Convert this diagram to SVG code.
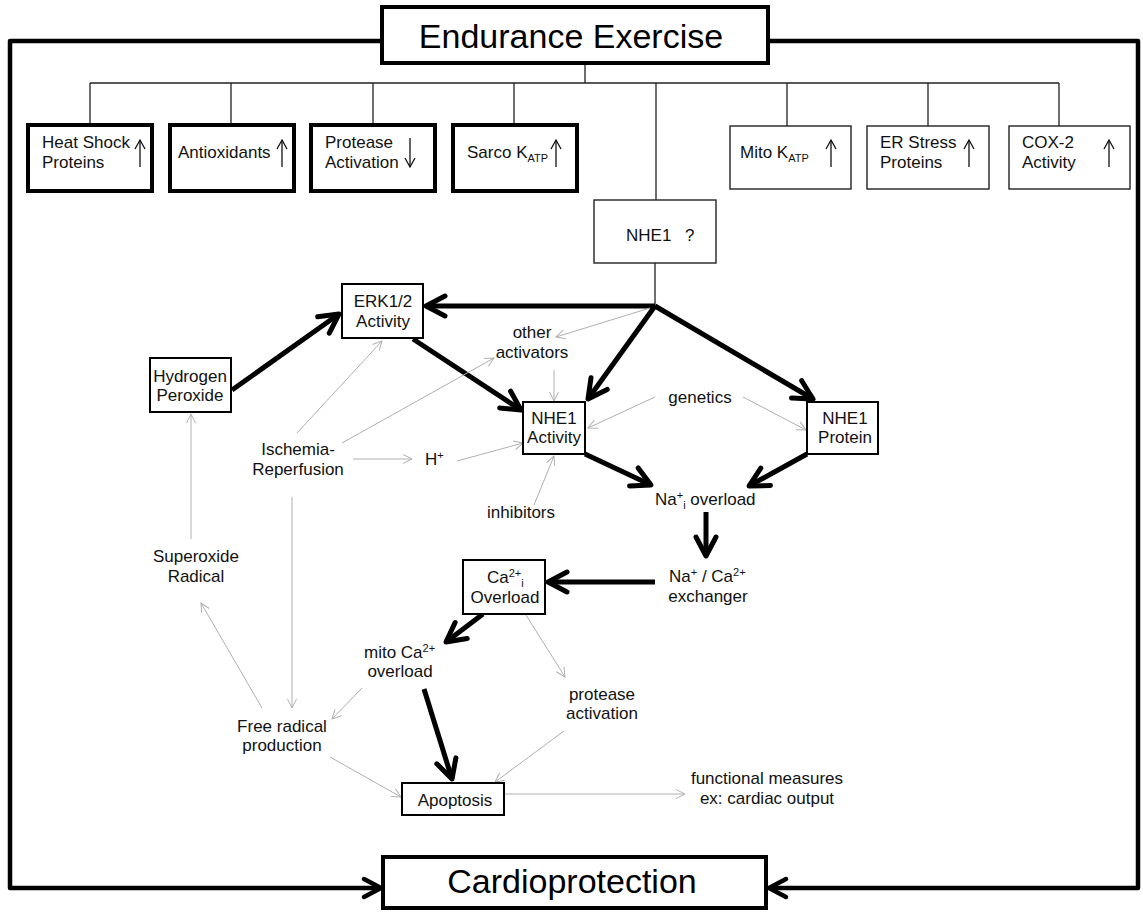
<svg xmlns="http://www.w3.org/2000/svg" width="1143" height="912" viewBox="0 0 1143 912">
<style>
text{font-family:"Liberation Sans",Arial,sans-serif;font-size:17px;fill:#111}
.title{font-size:34px;fill:#000}
.mid{text-anchor:middle}
.sub{font-size:11px}
.bthick{fill:#fff;stroke:#000;stroke-width:4}
.bthin{fill:#fff;stroke:#222;stroke-width:1.4}
.bmid{fill:#fff;stroke:#000;stroke-width:2}
.tline{fill:none;stroke:#222;stroke-width:1.3}
.thick{fill:none;stroke:#000;stroke-width:5;marker-end:url(#mThick)}
.gray{fill:none;stroke:#b0b0b0;stroke-width:1;marker-end:url(#mGray)}
.up{fill:none;stroke:#111;stroke-width:1.3;marker-end:url(#mUp)}
.frame{fill:none;stroke:#000;stroke-width:4.5;stroke-linejoin:round}
</style>
<defs>
<marker id="mThick" markerUnits="userSpaceOnUse" viewBox="-26 -14 30 28" markerWidth="30" markerHeight="28" refX="0" refY="0" orient="auto" overflow="visible">
<path d="M-19,-10 L0,0 L-19,10" fill="none" stroke="#000" stroke-width="5" stroke-linecap="round" stroke-linejoin="round"/>
</marker>
<marker id="mGray" markerUnits="userSpaceOnUse" viewBox="-10 -6 12 12" markerWidth="12" markerHeight="12" refX="0" refY="0" orient="auto" overflow="visible">
<path d="M-9,-4.5 L0,0 L-9,4.5" fill="none" stroke="#b0b0b0" stroke-width="1"/>
</marker>
<marker id="mUp" markerUnits="userSpaceOnUse" viewBox="-10 -6 12 12" markerWidth="12" markerHeight="12" refX="0" refY="0" orient="auto" overflow="visible">
<path d="M-9,-5 L0,0 L-9,5" fill="none" stroke="#111" stroke-width="1.3"/>
</marker>
<marker id="mFrame" markerUnits="userSpaceOnUse" viewBox="-20 -12 24 24" markerWidth="24" markerHeight="24" refX="0" refY="0" orient="auto" overflow="visible">
<path d="M-17,-9 L0,0 L-17,9" fill="none" stroke="#000" stroke-width="4.5" stroke-linecap="round" stroke-linejoin="round"/>
</marker>
</defs>
<rect width="1143" height="912" fill="#fff"/>

<g id="connectors">
<!-- outer frame -->
<path class="frame" d="M382,41 L10,41 L10,888 L381,888" marker-end="url(#mFrame)"/>
<path class="frame" d="M768,41 L1138,41 L1138,888 L769,888" marker-end="url(#mFrame)"/>
<!-- top tree -->
<path class="tline" d="M585,63 V83 M90,83 H1059 M90,83 V125 M231,83 V125 M373,83 V125 M514,83 V125 M656,83 V200 M787,83 V126 M928,83 V126 M1059,83 V126 M655,263 V306"/>
<!-- thick arrows -->
<path class="thick" d="M232,390 L339,314"/>
<path class="thick" d="M655,306 L426,306"/>
<path class="thick" d="M413,339 L521,410"/>
<path class="thick" d="M655,306 L588,399"/>
<path class="thick" d="M655,306 L813,399"/>
<path class="thick" d="M585,454 L651,485"/>
<path class="thick" d="M807,454 L749,486"/>
<path class="thick" d="M706,512 L706,556"/>
<path class="thick" d="M655,582 L548,582"/>
<path class="thick" d="M483,614 L446,642"/>
<path class="thick" d="M424,689 L452,779"/>
<!-- gray arrows -->
<path class="gray" d="M650,308 L556,337"/>
<path class="gray" d="M554,370 L554,401"/>
<path class="gray" d="M655,397 L588,428"/>
<path class="gray" d="M743,397 L806,430"/>
<path class="gray" d="M297,433 L382,341"/>
<path class="gray" d="M342,443 L494,358"/>
<path class="gray" d="M353,459 L412,459"/>
<path class="gray" d="M457,461 L523,443"/>
<path class="gray" d="M534,505 L554,456"/>
<path class="gray" d="M292,497 L292,708"/>
<path class="gray" d="M262,708 L201,603"/>
<path class="gray" d="M191,539 L191,414"/>
<path class="gray" d="M362,688 L332,719"/>
<path class="gray" d="M526,615 L565,677"/>
<path class="gray" d="M564,731 L495,782"/>
<path class="gray" d="M330,757 L401,797"/>
<path class="gray" d="M505,794 L685,794"/>
</g>

<g id="endurance">
<rect class="bthick" x="382" y="7" width="386" height="56"/>
<text class="title mid" x="571" y="48">Endurance Exercise</text>
</g>
<g id="cardioprotection">
<rect class="bthick" x="383" y="857" width="383" height="51"/>
<text class="title mid" x="572" y="893">Cardioprotection</text>
</g>

<g id="heatshock">
<rect class="bthick" x="28" y="125" width="124" height="66"/>
<text x="42" y="148">Heat Shock</text>
<text x="42" y="168">Proteins</text>
<path class="up" d="M140,167 V140"/>
</g>
<g id="antioxidants">
<rect class="bthick" x="170" y="125" width="124" height="66"/>
<text x="178" y="158">Antioxidants</text>
<path class="up" d="M282,167 V140"/>
</g>
<g id="protease-top">
<rect class="bthick" x="311" y="125" width="124" height="66"/>
<text x="325" y="148">Protease</text>
<text x="325" y="168">Activation</text>
<path class="up" d="M410,138 V167"/>
</g>
<g id="sarco">
<rect class="bthick" x="453" y="125" width="124" height="66"/>
<text x="467" y="158">Sarco K<tspan class="sub" dy="4">ATP</tspan></text>
<path class="up" d="M556,167 V140"/>
</g>
<g id="mito-katp">
<rect class="bthin" x="730" y="126" width="121" height="63"/>
<text x="740" y="158">Mito K<tspan class="sub" dy="4">ATP</tspan></text>
<path class="up" d="M831,167 V140"/>
</g>
<g id="er-stress">
<rect class="bthin" x="867" y="126" width="122" height="63"/>
<text x="880" y="148">ER Stress</text>
<text x="880" y="168">Proteins</text>
<path class="up" d="M969,167 V140"/>
</g>
<g id="cox2">
<rect class="bthin" x="1009" y="126" width="121" height="63"/>
<text x="1022" y="148">COX-2</text>
<text x="1022" y="168">Activity</text>
<path class="up" d="M1109,167 V140"/>
</g>
<g id="nhe1q">
<rect class="bthin" x="594" y="200" width="122" height="63"/>
<text x="626" y="241">NHE1</text>
<text x="685" y="241">?</text>
</g>

<g id="erk">
<rect class="bmid" x="342" y="284" width="81" height="54"/>
<text class="mid" x="383" y="307">ERK1/2</text>
<text class="mid" x="383" y="327">Activity</text>
</g>
<g id="h2o2">
<rect class="bmid" x="150" y="358" width="81" height="54"/>
<text class="mid" x="190" y="382">Hydrogen</text>
<text class="mid" x="190" y="401">Peroxide</text>
</g>
<g id="nhe1-activity">
<rect class="bmid" x="523" y="402" width="62" height="52"/>
<text class="mid" x="554" y="424">NHE1</text>
<text class="mid" x="554" y="443">Activity</text>
</g>
<g id="nhe1-protein">
<rect class="bmid" x="807" y="402" width="71" height="52"/>
<text class="mid" x="845" y="424">NHE1</text>
<text class="mid" x="845" y="443">Protein</text>
</g>
<g id="other-activators">
<text class="mid" x="532" y="338">other</text>
<text class="mid" x="532" y="358">activators</text>
</g>
<g id="genetics"><text class="mid" x="700" y="403">genetics</text></g>
<g id="ischemia">
<text class="mid" x="298" y="455">Ischemia-</text>
<text class="mid" x="298" y="475">Reperfusion</text>
</g>
<g id="hplus"><text x="425" y="465">H<tspan class="sub" dy="-6">+</tspan></text></g>
<g id="inhibitors"><text class="mid" x="521" y="518">inhibitors</text></g>
<g id="na-overload"><text x="655" y="505">Na<tspan class="sub" dy="-6">+</tspan><tspan class="sub" dy="10">i</tspan><tspan dy="-4"> overload</tspan></text></g>
<g id="exchanger">
<text x="669" y="582">Na<tspan class="sub" dy="-6">+</tspan><tspan dy="6"> / Ca</tspan><tspan class="sub" dy="-6">2+</tspan></text>
<text class="mid" x="708" y="602">exchanger</text>
</g>
<g id="ca-overload">
<rect class="bmid" x="463" y="560" width="82" height="54"/>
<text x="487" y="583">Ca<tspan class="sub" dy="-6">2+</tspan><tspan class="sub" dy="10">i</tspan></text>
<text class="mid" x="505" y="603">Overload</text>
</g>
<g id="mito-ca">
<text x="364" y="658">mito Ca<tspan class="sub" dy="-6">2+</tspan></text>
<text class="mid" x="400" y="677">overload</text>
</g>
<g id="superoxide">
<text class="mid" x="196" y="562">Superoxide</text>
<text class="mid" x="196" y="582">Radical</text>
</g>
<g id="free-radical">
<text class="mid" x="282" y="732">Free radical</text>
<text class="mid" x="282" y="751">production</text>
</g>
<g id="protease-activation">
<text class="mid" x="602" y="700">protease</text>
<text class="mid" x="602" y="719">activation</text>
</g>
<g id="apoptosis">
<rect class="bmid" x="402" y="783" width="102" height="32"/>
<text class="mid" x="455" y="806">Apoptosis</text>
</g>
<g id="functional">
<text class="mid" x="767" y="784">functional measures</text>
<text class="mid" x="767" y="804">ex: cardiac output</text>
</g>
</svg>
